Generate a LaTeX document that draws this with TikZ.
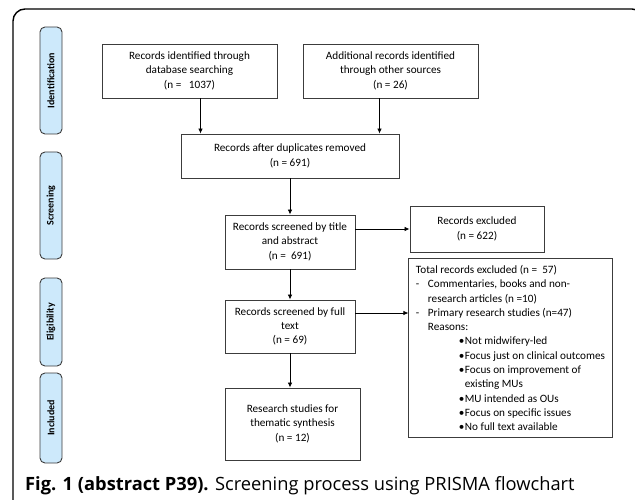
\documentclass[tikz,border=0pt]{standalone}
\usepackage{fontspec}
\setmainfont{Carlito}
\newfontfamily\capfont{Open Sans}
\usetikzlibrary{arrows.meta}

\definecolor{stagefill}{RGB}{205,233,251}
\definecolor{boxline}{RGB}{60,60,60}

% centred lines of a box
\newcommand{\boxlines}[1]{\begin{tabular}{@{}c@{}}#1\end{tabular}}

\tikzset{
    box/.style={draw=boxline, line width=0.9pt, inner sep=2pt,
        font=\fontsize{11.2}{14.3}\selectfont},
    stage/.style={draw=boxline, line width=0.9pt, fill=stagefill, rounded corners=5pt,
        minimum height=22pt, rotate=90, font=\bfseries\fontsize{10}{12}\selectfont},
    arr/.style={-{Latex[length=5pt,width=4.5pt]}, line width=0.8pt}
}

\begin{document}
\begin{tikzpicture}[x=1pt,y=-1pt]
    \clip (0,0) rectangle (635,500);
    \draw[line width=1.4pt, rounded corners=12pt] (13,510) -- (13,9) -- (644,9) -- (644,510);

    % stages
    \node[stage, minimum width=107pt] (ident) at (51,80.5) {Identification};
    \node[stage, minimum width=107pt] (screen) at (51,205.5) {Screening};
    \node[stage, minimum width=88pt] (elig) at (51,322) {Eligibility};
    \node[stage, minimum width=90pt] (incl) at (51,418) {Included};

    % boxes
    \node[box, minimum width=175pt, minimum height=54pt] (db) at (189.5,71)
        {\boxlines{Records identified through\\database searching\\(n = \ \ 1037)}};
    \node[box, minimum width=175pt, minimum height=54pt] (other) at (390.5,71)
        {\boxlines{Additional records identified\\through other sources\\(n = 26)}};
    \node[box, minimum width=218pt, minimum height=44pt] (dup) at (290,156)
        {\boxlines{Records after duplicates removed\\(n = 691)}};
    \node[box, minimum width=130pt, minimum height=54pt] (title) at (290,242)
        {\boxlines{Records screened by title\\and abstract\\(n = \ 691)}};
    \node[box, minimum width=134pt, minimum height=46pt] (excl) at (477,229)
        {\boxlines{Records excluded\\(n = 622)}};
    \node[box, minimum width=130pt, minimum height=53pt] (full) at (290,326.5)
        {\boxlines{Records screened by full\\text\\(n = 69)}};
    \node[box, minimum width=135pt, minimum height=72pt] (synth) at (292.5,424)
        {\boxlines{Research studies for\\thematic synthesis\\(n = 12)\\ }};
    \node[box, minimum width=203pt, minimum height=178pt, align=left, inner sep=7pt] (total) at (510.5,348)
        {Total records excluded (n = \ 57)\\
        \makebox[12pt][l]{-}Commentaries, books and non-\\
        \hspace*{12pt}research articles (n =10)\\
        \makebox[12pt][l]{-}Primary research studies (n=47)\\
        \hspace*{12pt}Reasons:\\
        \hspace*{43pt}\makebox[6pt][l]{\textbullet}Not midwifery-led\\
        \hspace*{43pt}\makebox[6pt][l]{\textbullet}Focus just on clinical outcomes\\
        \hspace*{43pt}\makebox[6pt][l]{\textbullet}Focus on improvement of\\
        \hspace*{49pt}existing MUs\\
        \hspace*{43pt}\makebox[6pt][l]{\textbullet}MU intended as OUs\\
        \hspace*{43pt}\makebox[6pt][l]{\textbullet}Focus on specific issues\\
        \hspace*{43pt}\makebox[6pt][l]{\textbullet}No full text available};

    % arrows
    \draw[arr] ([xshift=11pt]db.south) -- ([xshift=11pt]db.south |- dup.north);
    \draw[arr] ([xshift=-11pt]other.south) -- ([xshift=-11pt]other.south |- dup.north);
    \draw[arr] (dup.south) -- (title.north);
    \draw[arr] (title.east |- excl.west) -- (excl.west);
    \draw[arr] (title.south) -- (full.north);
    \draw[arr] ([yshift=13.5pt]full.east) -- ([yshift=13.5pt]full.east -| total.west);
    \draw[arr] (full.south) -- (full.south |- synth.north);

    % caption
    \node[anchor=base west, inner sep=0pt, font=\capfont\fontsize{18.3}{22}\selectfont] (cap) at (25,490)
        {\textbf{Fig. 1 (abstract P39).} Screening process using PRISMA flowchart};
\end{tikzpicture}
\end{document}
